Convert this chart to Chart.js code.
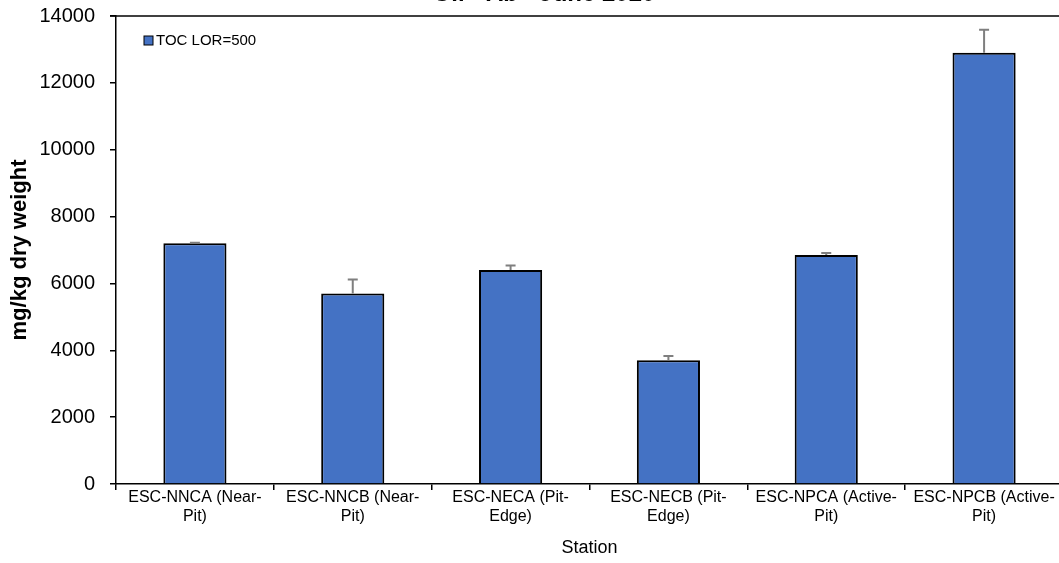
<!DOCTYPE html>
<html>
<head>
<meta charset="utf-8">
<script src="https://cdn.jsdelivr.net/npm/chart.js@4.4.0/dist/chart.umd.min.js"></script>
<style>
  html, body { margin: 0; padding: 0; background: #fff; overflow: hidden; }
  #wrap { width: 1063px; height: 563px; }
</style>
</head>
<body>
<div id="wrap"><canvas id="barChart" width="1063" height="563"></canvas></div>
<script>
// data
const stations = [
  ['ESC-NNCA (Near-', 'Pit)'],
  ['ESC-NNCB (Near-', 'Pit)'],
  ['ESC-NECA (Pit-', 'Edge)'],
  ['ESC-NECB (Pit-', 'Edge)'],
  ['ESC-NPCA (Active-', 'Pit)'],
  ['ESC-NPCB (Active-', 'Pit)']
];
const tocValues = [7200, 5700, 6400, 3700, 6850, 12900];
const tocErrors = [15, 420, 140, 130, 60, 690];
const seriesLabel = 'TOC LOR=500';
const chartTitle = 'Oil - Ab - June 2020';

const FONT = "'Liberation Sans', Arial, sans-serif";
const BAR_BLUE = '#4472C4';

// title is cut off at the top edge, draw it by hand
const titlePlugin = {
  id: 'cutTitle',
  afterDraw(chart) {
    const ctx = chart.ctx;
    ctx.save();
    ctx.font = 'bold 24px ' + FONT;
    ctx.fillStyle = '#000';
    ctx.textAlign = 'center';
    ctx.textBaseline = 'alphabetic';
    ctx.fillText(chartTitle, 544, 1);
    ctx.restore();
  }
};

// top border line of the plot area
const borderPlugin = {
  id: 'topBorder',
  afterDraw(chart) {
    const { ctx, chartArea } = chart;
    ctx.save();
    ctx.strokeStyle = '#000';
    ctx.lineWidth = 1.5;
    ctx.beginPath();
    ctx.moveTo(chartArea.left - 6, chartArea.top);
    ctx.lineTo(chartArea.right, chartArea.top);
    ctx.stroke();
    ctx.restore();
  }
};

// upper error bars
const errorBarPlugin = {
  id: 'errorBars',
  afterDatasetsDraw(chart) {
    const ctx = chart.ctx;
    const yScale = chart.scales.y;
    const meta = chart.getDatasetMeta(0);
    ctx.save();
    ctx.strokeStyle = '#7F7F7F';
    ctx.lineWidth = 2;
    meta.data.forEach((bar, i) => {
      const x = bar.x;
      const y0 = yScale.getPixelForValue(tocValues[i]);
      const y1 = yScale.getPixelForValue(tocValues[i] + tocErrors[i]);
      ctx.beginPath();
      ctx.moveTo(x, y0);
      ctx.lineTo(x, y1);
      ctx.moveTo(x - 5, y1);
      ctx.lineTo(x + 5, y1);
      ctx.stroke();
    });
    ctx.restore();
  }
};

// legend sits inside the plot, top left
const legendPlugin = {
  id: 'innerLegend',
  afterDraw(chart) {
    const ctx = chart.ctx;
    const x = chart.chartArea.left + 28;
    const y = chart.chartArea.top + 25;
    ctx.save();
    ctx.fillStyle = BAR_BLUE;
    ctx.fillRect(x, y - 5, 9, 9);
    ctx.strokeStyle = '#000';
    ctx.lineWidth = 1;
    ctx.strokeRect(x, y - 5, 9, 9);
    ctx.fillStyle = '#000';
    ctx.font = '15px ' + FONT;
    ctx.textBaseline = 'middle';
    ctx.fillText(seriesLabel, x + 12, y);
    ctx.restore();
  }
};

new Chart(document.getElementById('barChart'), {
  type: 'bar',
  data: {
    labels: stations,
    datasets: [{
      label: seriesLabel,
      data: tocValues,
      backgroundColor: BAR_BLUE,
      borderColor: '#000',
      borderWidth: 2,
      barPercentage: 0.4,
      categoryPercentage: 1.0
    }]
  },
  options: {
    responsive: false,
    animation: false,
    layout: { padding: { top: 0, right: 0, left: 3, bottom: 0 } },
    plugins: {
      legend: { display: false },
      tooltip: { enabled: false }
    },
    scales: {
      x: {
        grid: {
          display: true,
          drawOnChartArea: false,
          drawTicks: true,
          tickLength: 6,
          offset: true,
          color: '#000',
          lineWidth: 1.5
        },
        border: { color: '#000', width: 1.5 },
        ticks: {
          color: '#000',
          font: { family: FONT, size: 16 },
          maxRotation: 0,
          autoSkip: false,
          padding: -2
        },
        title: {
          display: true,
          text: 'Station',
          color: '#000',
          font: { family: FONT, size: 18 },
          padding: { top: 13 }
        }
      },
      y: {
        min: 0,
        max: 14000,
        afterFit(scale) {
          scale.paddingTop = 16;
          scale.width = 113;
        },
        grid: {
          display: true,
          drawOnChartArea: false,
          drawTicks: true,
          tickLength: 6,
          color: '#000',
          lineWidth: 1.5
        },
        border: { color: '#000', width: 1.5 },
        ticks: {
          stepSize: 2000,
          color: '#000',
          font: { family: FONT, size: 20 },
          padding: 15,
          callback: v => String(v)
        },
        title: {
          display: true,
          text: 'mg/kg dry weight',
          color: '#000',
          font: { family: FONT, size: 22, weight: 'bold' },
          padding: { bottom: 0 }
        }
      }
    }
  },
  plugins: [errorBarPlugin, borderPlugin, legendPlugin, titlePlugin]
});
</script>
</body>
</html>
